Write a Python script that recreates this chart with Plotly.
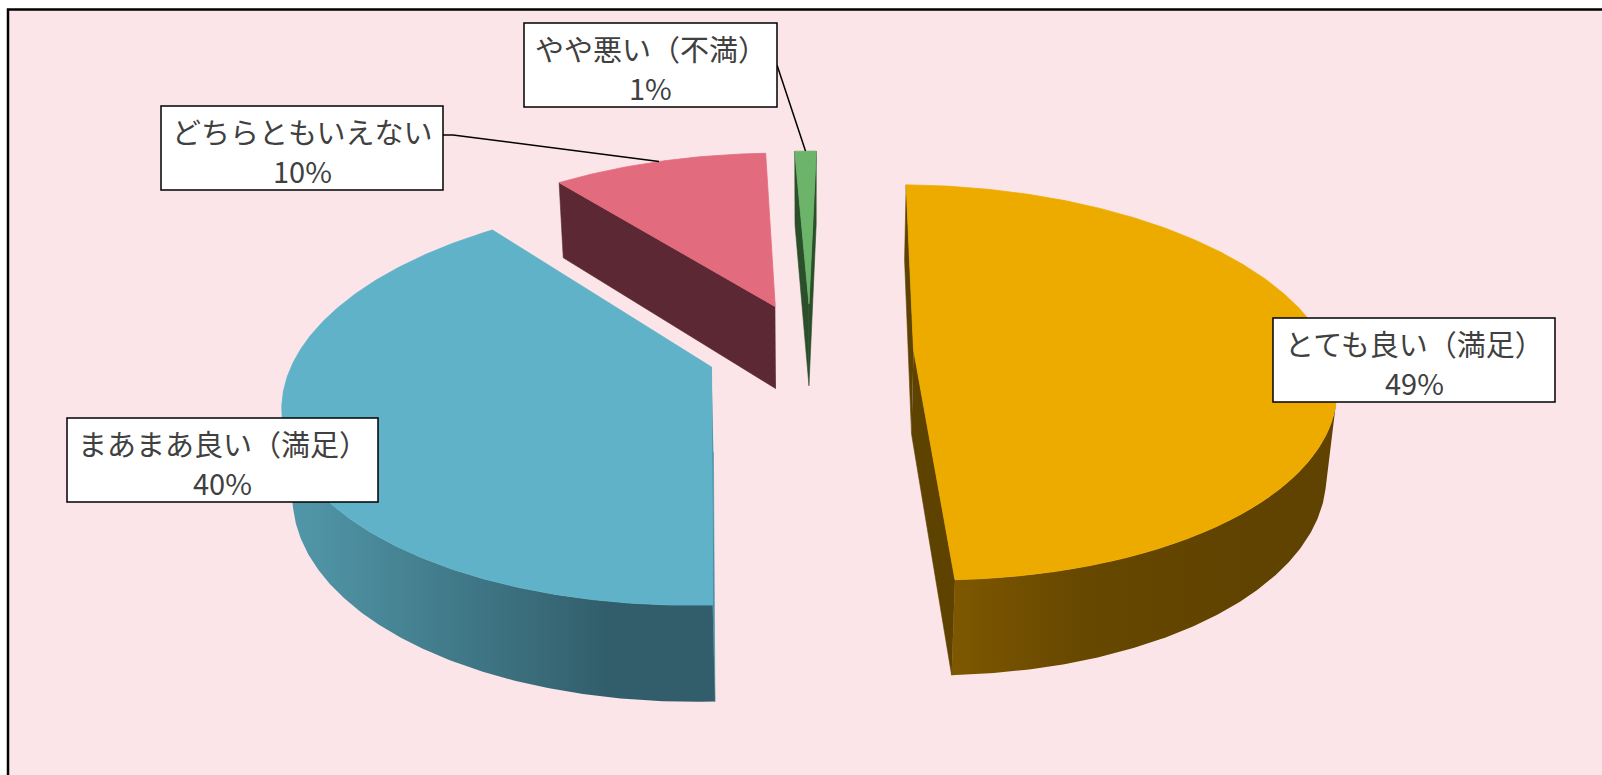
import numpy as np
import plotly.graph_objects as go

# ---- data ----
labels = ["とても良い（満足）", "まあまあ良い（満足）", "どちらともいえない", "やや悪い（不満）"]
shares = [49, 40, 10, 1]

# ---- styles ----
top_colors = ["#EDAB00", "#5FB2C8", "#E36B7E", "#6BB46A"]
wall_scales = [
    [[0, "#7E5800"], [0.45, "#674800"], [1, "#604300"]],
    [[0, "#5299AB"], [1, "#325E6B"]],
    [[0, "#5C2833"], [1, "#5C2833"]],
    [[0, "#2B4E2B"], [1, "#2B4E2B"]],
]
cut_colors = ["#5E4300", "#4C91A5", "#5C2833", "#2B4E2B"]
BG = "#FBE5E8"
TEXT = "#404040"
FONT = "Noto Sans CJK JP"

# ---- 3D view of the pie (unit radius) ----
X0, Y0 = 810.0, 350.0      # screen position of the pie centre
FOCAL = 2246.0
ASPECT = 0.985
DIST = 5.34
TILT = np.radians(27.2)
START = np.radians(1.2)    # first slice starts just past 12 o'clock
EXPLODE = 0.25
THICK = 0.23
CT, ST = np.cos(TILT), np.sin(TILT)
CAM = np.array([0.0, -DIST * CT, DIST * ST])


def project(u, v, z):
    u, v, z = np.asarray(u, float), np.asarray(v, float), np.asarray(z, float)
    depth = DIST + v * CT - z * ST
    return X0 + FOCAL * ASPECT * u / depth, Y0 - FOCAL * (v * ST + z * CT) / depth


def facing(point, normal):
    return float(np.dot(CAM - np.asarray(point), np.asarray(normal))) > 0


def poly(xs, ys, **kw):
    return go.Scatter(x=list(xs), y=list(ys), mode="lines", fill="toself",
                      hoverinfo="skip", showlegend=False, **kw)


total = float(sum(shares))
bounds = START + np.concatenate([[0.0], np.cumsum(shares) / total]) * 2 * np.pi

slices = []
for i in range(len(shares)):
    a0, a1 = bounds[i], bounds[i + 1]
    mid = 0.5 * (a0 + a1)
    ox, oy = EXPLODE * np.sin(mid), EXPLODE * np.cos(mid)
    n = max(4, int(np.degrees(a1 - a0) * 2))
    ang = np.linspace(a0, a1, n)
    slices.append(dict(i=i, a0=a0, a1=a1, mid=mid, ox=ox, oy=oy, ang=ang,
                       depth=DIST + oy * CT))

traces = []
for s in sorted(slices, key=lambda d: -d["depth"]):
    i, ox, oy, ang = s["i"], s["ox"], s["oy"], s["ang"]
    au = ox + np.sin(ang)
    av = oy + np.cos(ang)

    # straight cut faces
    for a, nrm in ((s["a0"], (-np.cos(s["a0"]), np.sin(s["a0"]), 0.0)),
                   (s["a1"], (np.cos(s["a1"]), -np.sin(s["a1"]), 0.0))):
        if facing((ox, oy, 0.0), nrm):
            pu = [ox, ox + np.sin(a), ox + np.sin(a), ox]
            pv = [oy, oy + np.cos(a), oy + np.cos(a), oy]
            pz = [0, 0, -THICK, -THICK]
            xs, ys = project(pu, pv, pz)
            traces.append(poly(xs, ys, fillcolor=cut_colors[i],
                               line=dict(color=cut_colors[i], width=0.6)))

    # curved outer wall, visible runs only
    vis = []
    for k in range(len(ang) - 1):
        am = 0.5 * (ang[k] + ang[k + 1])
        p = (ox + np.sin(am), oy + np.cos(am), 0.0)
        vis.append(facing(p, (np.sin(am), np.cos(am), 0.0)))
    k = 0
    while k < len(vis):
        if not vis[k]:
            k += 1
            continue
        j = k
        while j < len(vis) and vis[j]:
            j += 1
        uu, vv = au[k:j + 1], av[k:j + 1]
        xt, yt = project(uu, vv, np.zeros_like(uu))
        xb, yb = project(uu, vv, np.full_like(uu, -THICK))
        xs = np.concatenate([xt, xb[::-1]])
        ys = np.concatenate([yt, yb[::-1]])
        traces.append(poly(xs, ys, line=dict(width=0),
                           fillcolor=wall_scales[i][-1][1],
                           fillgradient=dict(type="horizontal",
                                             colorscale=wall_scales[i],
                                             start=float(xs.min()),
                                             stop=float(xs.min() + 0.75 * (xs.max() - xs.min())))))
        k = j

    # top face
    pu = np.concatenate([[ox], au, [ox]])
    pv = np.concatenate([[oy], av, [oy]])
    xs, ys = project(pu, pv, np.zeros_like(pu))
    traces.append(poly(xs, ys, fillcolor=top_colors[i],
                       line=dict(color=top_colors[i], width=0.8)))

# ---- labels ----
# box left, top, width, height for each label, in page pixels
label_boxes = [
    (1273, 318, 282, 84),
    (67, 418, 311, 84),
    (161, 106, 282, 84),
    (524, 23, 253, 84),
]

shapes = [dict(type="rect", xref="x", yref="y", x0=8, y0=9.5, x1=1700, y1=900,
               fillcolor=BG, line=dict(color="black", width=2.5), layer="below")]
annotations = []
for lab, val, (bl, bt, bw, bh) in zip(labels, shares, label_boxes):
    shapes.append(dict(type="rect", xref="x", yref="y", x0=bl, y0=bt, x1=bl + bw, y1=bt + bh,
                       fillcolor="white", line=dict(color="black", width=1.5), layer="above"))
    cx = bl + bw / 2
    for txt, dy in ((lab, 25), (f"{val}%", 64)):
        annotations.append(dict(
            x=cx, y=bt + dy, xref="x", yref="y", showarrow=False, text=txt,
            font=dict(family=FONT, size=29, color=TEXT),
            xanchor="center", yanchor="middle",
        ))


def arc_mid(idx):
    s = slices[idx]
    return project(s["ox"] + np.sin(s["mid"]), s["oy"] + np.cos(s["mid"]), 0.0)


# leader lines for the two small slices
px, py = arc_mid(2)
traces.append(go.Scatter(x=[443, 453, float(px)], y=[135, 135, float(py)], mode="lines",
                         line=dict(color="black", width=1.5), hoverinfo="skip",
                         showlegend=False))
px, py = arc_mid(3)
traces.append(go.Scatter(x=[777, float(px)], y=[65, float(py)], mode="lines",
                         line=dict(color="black", width=1.5), hoverinfo="skip",
                         showlegend=False))

fig = go.Figure(traces)
fig.update_layout(
    width=1602, height=775,
    margin=dict(l=0, r=0, t=0, b=0),
    paper_bgcolor="white", plot_bgcolor="white",
    xaxis=dict(range=[0, 1602], visible=False, fixedrange=True),
    yaxis=dict(range=[775, 0], visible=False, fixedrange=True),
    annotations=annotations,
    shapes=shapes,
    showlegend=False,
)
fig.write_html("out.html")
